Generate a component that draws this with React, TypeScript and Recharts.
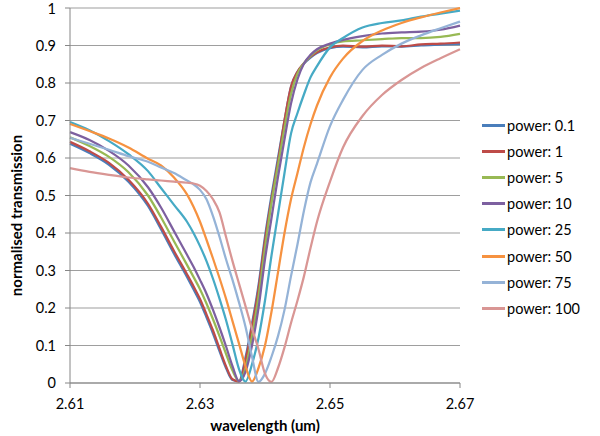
import { LineChart, Line, XAxis, YAxis, CartesianGrid } from 'recharts';

const wavelength = [
  2.61, 2.613, 2.616, 2.619, 2.622, 2.624, 2.626, 2.628, 2.629, 2.63, 2.631, 2.632,
  2.633, 2.634, 2.635, 2.636, 2.637, 2.638, 2.639, 2.64, 2.641, 2.642, 2.643, 2.644,
  2.645, 2.646, 2.647, 2.648, 2.65, 2.652, 2.655, 2.658, 2.661, 2.664, 2.667, 2.67,
];

const power0_1 = [
  0.638, 0.613, 0.582, 0.537, 0.472, 0.41, 0.345, 0.283, 0.25, 0.216, 0.175, 0.132,
  0.085, 0.04, 0.008, 0.005, 0.068, 0.158, 0.26, 0.39, 0.5, 0.6, 0.7, 0.79,
  0.83, 0.852, 0.868, 0.88, 0.893, 0.897, 0.895, 0.898, 0.897, 0.9, 0.902, 0.904,
];
const power1 = [
  0.643, 0.618, 0.587, 0.542, 0.478, 0.417, 0.352, 0.29, 0.258, 0.224, 0.183, 0.14,
  0.092, 0.045, 0.01, 0.004, 0.06, 0.15, 0.25, 0.38, 0.49, 0.59, 0.7, 0.79,
  0.83, 0.853, 0.87, 0.882, 0.895, 0.9, 0.897, 0.9, 0.898, 0.903, 0.905, 0.908,
];
const power5 = [
  0.655, 0.632, 0.603, 0.562, 0.5, 0.442, 0.378, 0.315, 0.283, 0.25, 0.212, 0.17,
  0.125, 0.078, 0.033, 0.005, 0.04, 0.125, 0.23, 0.36, 0.48, 0.58, 0.68, 0.77,
  0.825, 0.853, 0.872, 0.887, 0.903, 0.911, 0.914, 0.917, 0.92, 0.92, 0.923, 0.931,
];
const power10 = [
  0.669, 0.648, 0.619, 0.58, 0.522, 0.468, 0.405, 0.342, 0.31, 0.275, 0.238, 0.195,
  0.148, 0.098, 0.045, 0.005, 0.03, 0.1, 0.2, 0.33, 0.44, 0.55, 0.65, 0.745,
  0.81, 0.852, 0.875, 0.89, 0.905, 0.915, 0.925, 0.932, 0.935, 0.937, 0.942, 0.953,
];
const power25 = [
  0.696, 0.674, 0.645, 0.61, 0.565, 0.52, 0.475, 0.43, 0.4, 0.365, 0.325, 0.278,
  0.225, 0.168, 0.103, 0.037, 0.004, 0.05, 0.12, 0.22, 0.34, 0.45, 0.56, 0.665,
  0.72, 0.77, 0.815, 0.845, 0.895, 0.92, 0.948, 0.96, 0.967, 0.977, 0.985, 0.993,
];
const power50 = [
  0.691, 0.672, 0.652, 0.628, 0.598, 0.58, 0.548, 0.503, 0.47, 0.43, 0.382, 0.332,
  0.28, 0.225, 0.165, 0.105, 0.045, 0.004, 0.04, 0.1, 0.19, 0.295, 0.4, 0.49,
  0.56, 0.63, 0.69, 0.74, 0.815, 0.865, 0.912, 0.94, 0.96, 0.975, 0.988, 1.0,
];
const power75 = [
  0.654, 0.638, 0.622, 0.605, 0.59, 0.575, 0.56, 0.54, 0.53, 0.515, 0.49, 0.445,
  0.39, 0.33, 0.275, 0.215, 0.15, 0.07, 0.003, 0.025, 0.07, 0.125, 0.195, 0.285,
  0.37, 0.46, 0.535, 0.585, 0.685, 0.755, 0.835, 0.875, 0.905, 0.927, 0.946, 0.964,
];
const power100 = [
  0.573, 0.563, 0.555, 0.548, 0.543, 0.54, 0.537, 0.534, 0.532, 0.526, 0.512, 0.49,
  0.455, 0.39, 0.325, 0.265, 0.205, 0.145, 0.09, 0.025, 0.003, 0.04, 0.095, 0.16,
  0.22, 0.285, 0.36, 0.43, 0.537, 0.628, 0.712, 0.768, 0.808, 0.84, 0.866, 0.89,
];

const seriesNames = [
  'power: 0.1', 'power: 1', 'power: 5', 'power: 10',
  'power: 25', 'power: 50', 'power: 75', 'power: 100',
];
const seriesValues = [power0_1, power1, power5, power10, power25, power50, power75, power100];
const seriesColors = [
  '#4A7EBB', '#BE4B48', '#98B954', '#7D60A0',
  '#46AAC5', '#F69240', '#95B3D7', '#D99694',
];

const xTicks = [2.61, 2.63, 2.65, 2.67];
const yTicks = [0, 0.1, 0.2, 0.3, 0.4, 0.5, 0.6, 0.7, 0.8, 0.9, 1];

const data = wavelength.map((w, i) => {
  const row: Record<string, number> = { w };
  seriesValues.forEach((vals, s) => { row[`s${s}`] = vals[i]; });
  return row;
});

const FONT = 'Lato, "Open Sans", sans-serif';
const GREY = '#868686';

// legend drawn as plain html on top of the chart, so it takes no room from the plot
function LegendBox() {
  return (
    <div style={{ position: 'absolute', left: 482, top: 112, fontFamily: FONT, fontSize: 14.5, color: '#000' }}>
      {seriesNames.map((n, i) => (
        <div key={n} style={{ display: 'flex', alignItems: 'center', height: 26.2 }}>
          <span style={{ display: 'inline-block', width: 23, borderTop: `3px solid ${seriesColors[i]}`, marginRight: 2 }} />
          <span>{n}</span>
        </div>
      ))}
    </div>
  );
}

export default function App() {
  return (
    <div style={{ position: 'absolute', left: 0, top: 0, width: 600, height: 436, background: '#fff' }}>
      <LineChart width={600} height={436} data={data} margin={{ top: 8, right: 140, bottom: 0, left: 0 }}>
        <CartesianGrid vertical={false} stroke={GREY} strokeOpacity={0.8} />
        <XAxis
          dataKey="w"
          type="number"
          domain={[2.61, 2.67]}
          ticks={xTicks}
          tickFormatter={v => v.toFixed(2)}
          axisLine={{ stroke: GREY }}
          tickLine={{ stroke: GREY }}
          tickSize={5}
          tickMargin={11}
          tick={{ fontSize: 14.5, fill: '#000', fontFamily: FONT }}
          height={53}
          label={{
            value: 'wavelength (um)', position: 'insideBottom', offset: 5,
            style: { fontSize: 15, fontWeight: 700, fill: '#000', fontFamily: FONT },
          }}
        />
        <YAxis
          type="number"
          domain={[0, 1]}
          ticks={yTicks}
          tickFormatter={v => String(Math.round(v * 10) / 10)}
          axisLine={{ stroke: GREY }}
          tickLine={{ stroke: GREY }}
          tickSize={5}
          tickMargin={9}
          width={70}
          tick={{ fontSize: 14.5, fill: '#000', fontFamily: FONT }}
          label={{
            value: 'normalised transmission', angle: -90, position: 'center', dx: -18, dy: 20,
            style: { fontSize: 15, fontWeight: 700, fill: '#000', fontFamily: FONT, textAnchor: 'middle' },
          }}
        />
        {seriesNames.map((n, i) => (
          <Line
            key={n}
            name={n}
            dataKey={`s${i}`}
            type="monotone"
            stroke={seriesColors[i]}
            strokeWidth={2.25}
            dot={false}
            isAnimationActive={false}
          />
        ))}
      </LineChart>
      <LegendBox />
    </div>
  );
}
